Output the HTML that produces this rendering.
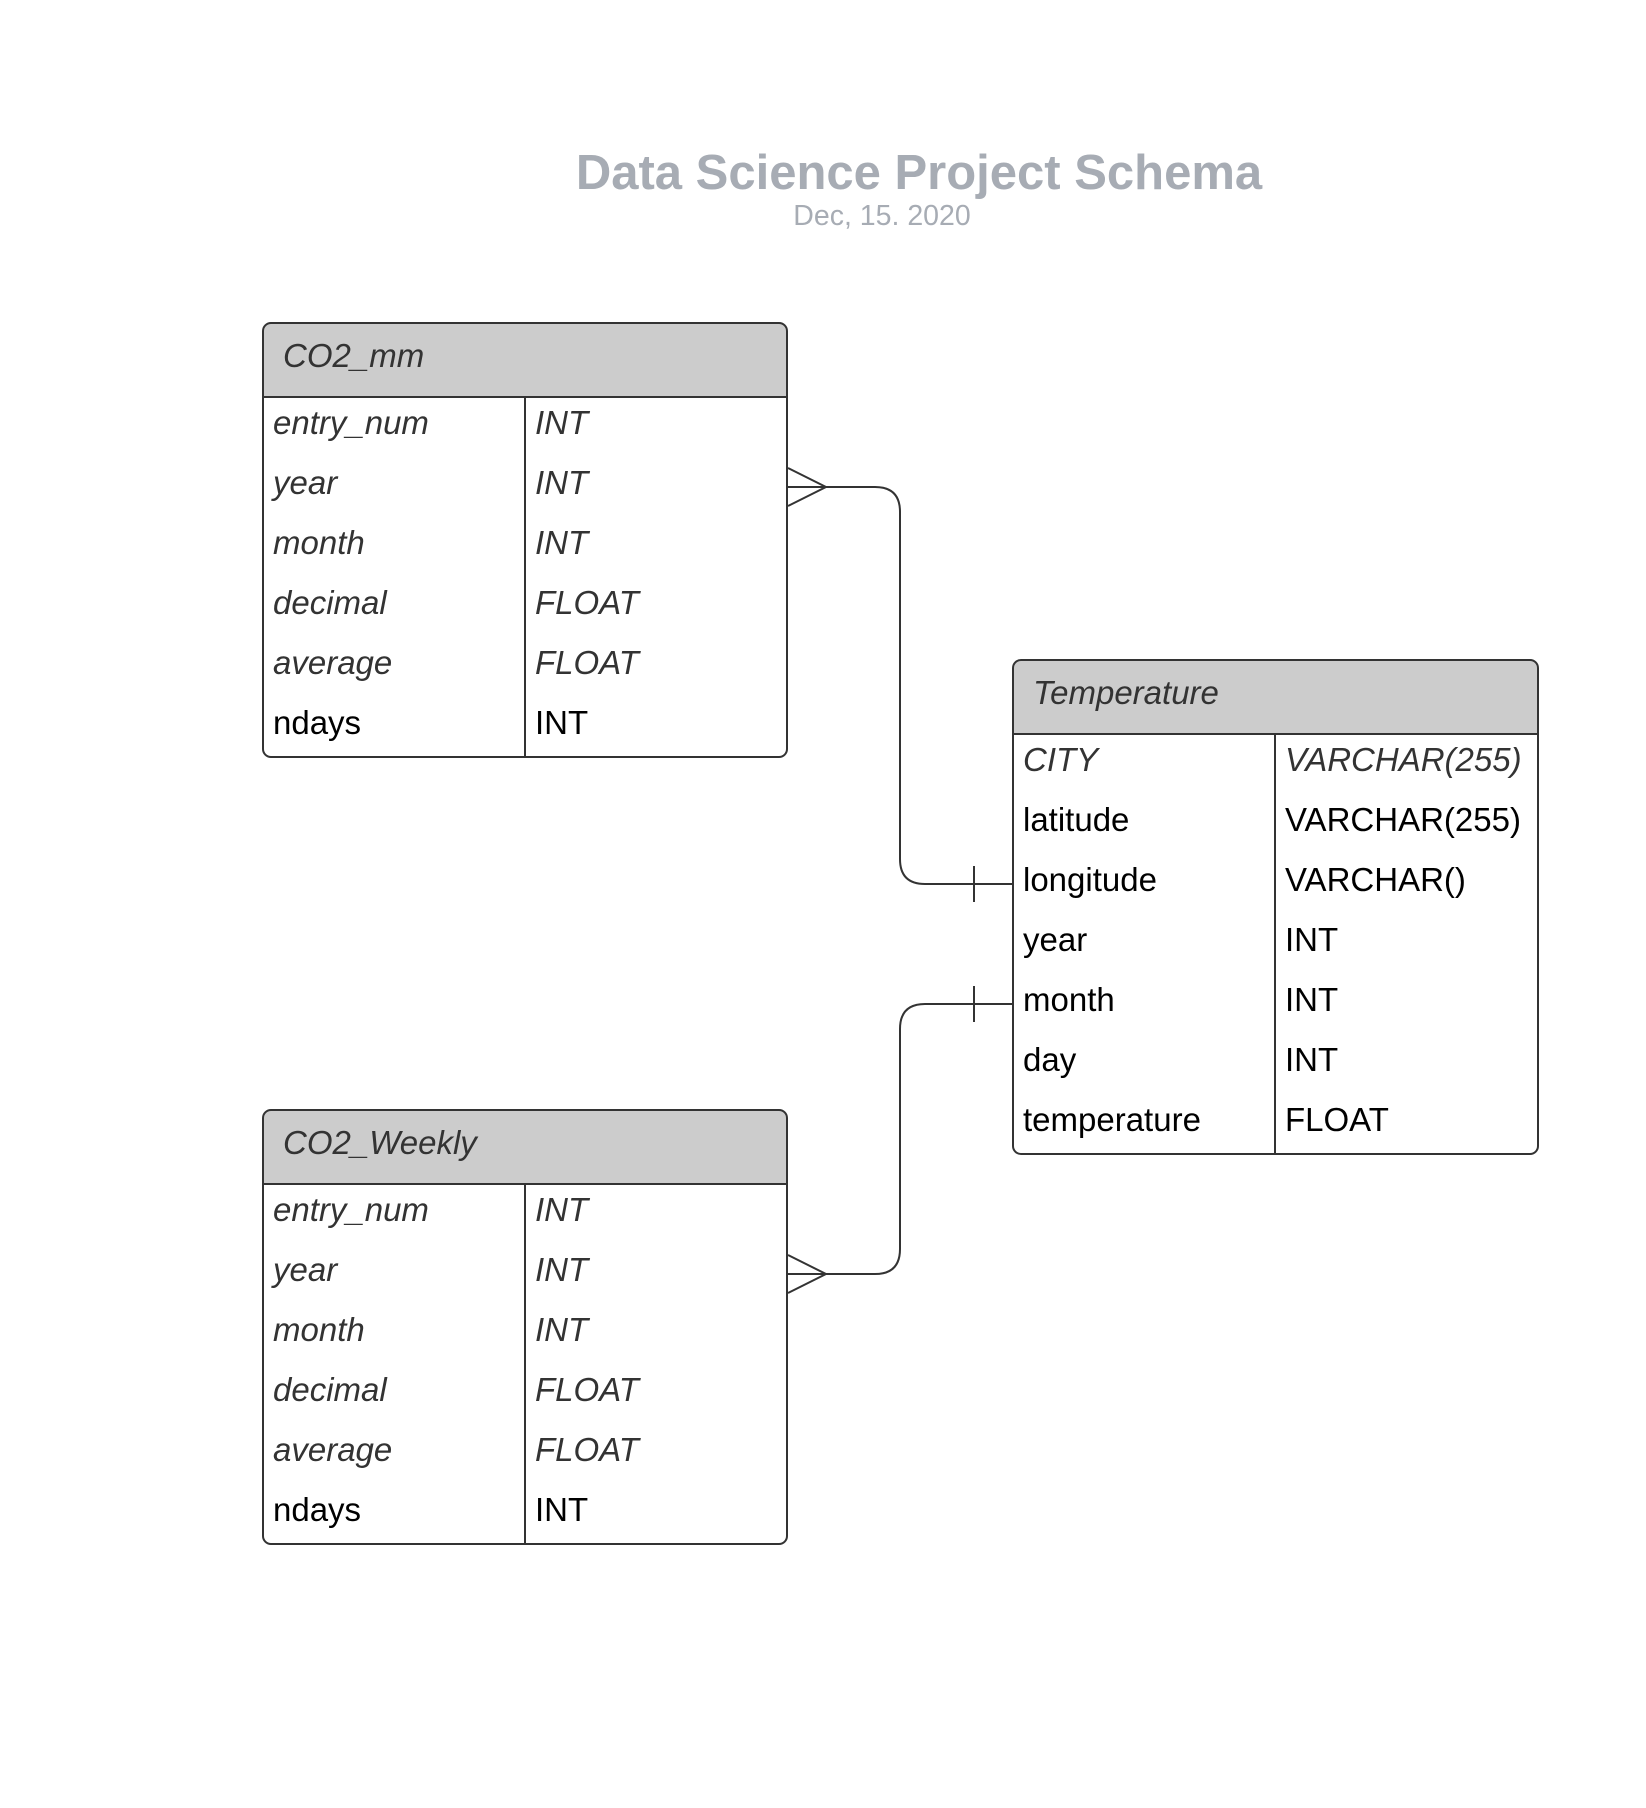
<!DOCTYPE html>
<html><head><meta charset="utf-8"><style>
html,body{margin:0;padding:0;background:#fff;}
svg{display:block;}
text{font-family:"Liberation Sans",Arial,sans-serif;}
</style></head><body>
<svg width="1646" height="1808" viewBox="0 0 1646 1808" xmlns="http://www.w3.org/2000/svg">
<rect width="1646" height="1808" fill="#fff"/>
<text x="919" y="189" text-anchor="middle" font-size="49" font-weight="bold" fill="#a7acb4">Data Science Project Schema</text>
<text x="882" y="225" text-anchor="middle" font-size="28.5" fill="#a7acb4">Dec, 15. 2020</text>

<!-- connectors -->
<g fill="none" stroke="#333" stroke-width="2">
<path d="M788 487 H875 Q900 487 900 512 V859 Q900 884 925 884 H1012"/>
<path d="M974 866 V902"/>
<path d="M788 468 L826 487 L788 506"/>
<path d="M788 1274 H875 Q900 1274 900 1249 V1029 Q900 1004 925 1004 H1012"/>
<path d="M974 986 V1022"/>
<path d="M788 1255 L826 1274 L788 1293"/>
</g>

<!-- CO2_mm -->
<g>
<path d="M263 397 V333 Q263 323 273 323 H777 Q787 323 787 333 V397 Z" fill="#cccccc"/>
<rect x="263" y="323" width="524" height="434" rx="8" fill="none" stroke="#333" stroke-width="2"/>
<line x1="263" y1="397" x2="787" y2="397" stroke="#333" stroke-width="2"/>
<line x1="525" y1="397" x2="525" y2="757" stroke="#333" stroke-width="2"/>
<text x="283" y="367" font-size="33" font-style="italic" fill="#333">CO2_mm</text>
<g font-size="33">
<text x="273" y="434" font-style="italic" fill="#333">entry_num</text><text x="535" y="434" font-style="italic" fill="#333">INT</text>
<text x="273" y="494" font-style="italic" fill="#333">year</text><text x="535" y="494" font-style="italic" fill="#333">INT</text>
<text x="273" y="554" font-style="italic" fill="#333">month</text><text x="535" y="554" font-style="italic" fill="#333">INT</text>
<text x="273" y="614" font-style="italic" fill="#333">decimal</text><text x="535" y="614" font-style="italic" fill="#333">FLOAT</text>
<text x="273" y="674" font-style="italic" fill="#333">average</text><text x="535" y="674" font-style="italic" fill="#333">FLOAT</text>
<text x="273" y="734" fill="#000">ndays</text><text x="535" y="734" fill="#000">INT</text>
</g>
</g>

<!-- CO2_Weekly -->
<g>
<path d="M263 1184 V1120 Q263 1110 273 1110 H777 Q787 1110 787 1120 V1184 Z" fill="#cccccc"/>
<rect x="263" y="1110" width="524" height="434" rx="8" fill="none" stroke="#333" stroke-width="2"/>
<line x1="263" y1="1184" x2="787" y2="1184" stroke="#333" stroke-width="2"/>
<line x1="525" y1="1184" x2="525" y2="1544" stroke="#333" stroke-width="2"/>
<text x="283" y="1154" font-size="33" font-style="italic" fill="#333">CO2_Weekly</text>
<g font-size="33">
<text x="273" y="1221" font-style="italic" fill="#333">entry_num</text><text x="535" y="1221" font-style="italic" fill="#333">INT</text>
<text x="273" y="1281" font-style="italic" fill="#333">year</text><text x="535" y="1281" font-style="italic" fill="#333">INT</text>
<text x="273" y="1341" font-style="italic" fill="#333">month</text><text x="535" y="1341" font-style="italic" fill="#333">INT</text>
<text x="273" y="1401" font-style="italic" fill="#333">decimal</text><text x="535" y="1401" font-style="italic" fill="#333">FLOAT</text>
<text x="273" y="1461" font-style="italic" fill="#333">average</text><text x="535" y="1461" font-style="italic" fill="#333">FLOAT</text>
<text x="273" y="1521" fill="#000">ndays</text><text x="535" y="1521" fill="#000">INT</text>
</g>
</g>

<!-- Temperature -->
<g>
<path d="M1013 734 V670 Q1013 660 1023 660 H1528 Q1538 660 1538 670 V734 Z" fill="#cccccc"/>
<rect x="1013" y="660" width="525" height="494" rx="8" fill="none" stroke="#333" stroke-width="2"/>
<line x1="1013" y1="734" x2="1538" y2="734" stroke="#333" stroke-width="2"/>
<line x1="1275" y1="734" x2="1275" y2="1154" stroke="#333" stroke-width="2"/>
<text x="1033" y="704" font-size="33" font-style="italic" fill="#333">Temperature</text>
<g font-size="33">
<text x="1023" y="771" font-style="italic" fill="#333">CITY</text><text x="1285" y="771" font-style="italic" fill="#333">VARCHAR(255)</text>
<text x="1023" y="831" fill="#000">latitude</text><text x="1285" y="831" fill="#000">VARCHAR(255)</text>
<text x="1023" y="891" fill="#000">longitude</text><text x="1285" y="891" fill="#000">VARCHAR()</text>
<text x="1023" y="951" fill="#000">year</text><text x="1285" y="951" fill="#000">INT</text>
<text x="1023" y="1011" fill="#000">month</text><text x="1285" y="1011" fill="#000">INT</text>
<text x="1023" y="1071" fill="#000">day</text><text x="1285" y="1071" fill="#000">INT</text>
<text x="1023" y="1131" fill="#000">temperature</text><text x="1285" y="1131" fill="#000">FLOAT</text>
</g>
</g>
</svg>
</body></html>
